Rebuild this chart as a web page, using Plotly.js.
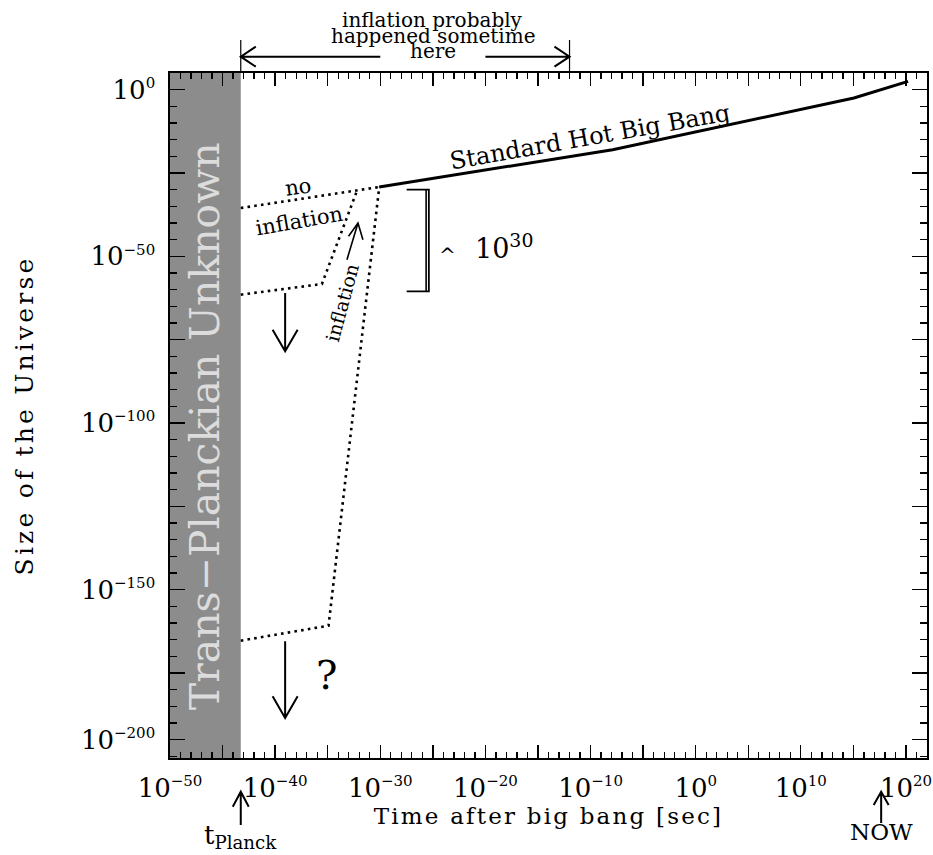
<!DOCTYPE html>
<html>
<head>
<meta charset="utf-8">
<script src="https://cdn.plot.ly/plotly-3.0.1.min.js"></script>
<style>
  html, body { margin: 0; padding: 0; background: #fff; }
  .xtitle { letter-spacing: 2.2px; }
  .ytitle { letter-spacing: 3.2px; }
</style>
</head>
<body>
<div id="chart" style="width:933px;height:855px;"></div>
<script>
// ---- data (log10 of time [s] and log10 of size) ----
const bigBangLogT   = [-30.1, -7.9, 15.05, 20.2];
const bigBangLogA   = [-29.2, -18.0, -2.5, 2.5];
const noInflLogT    = [-43.27, -30.1];
const noInflLogA    = [-35.5, -29.2];
const inflLogT      = [-43.27, -35.55, -32.2];
const inflLogA      = [-61.5, -58.3, -30.2];
const bigInflLogT   = [-43.27, -34.92, -30.1];
const bigInflLogA   = [-165.3, -160.8, -29.2];

const logTPlanck = -43.27;
const logTNow = 17.64;
const logTInflEnd = -12.0;

// ---- ticks ----
const xLabelVals = [-50, -40, -30, -20, -10, 0, 10, 20];
const xLabelExp  = ['−50', '−40', '−30', '−20', '−10', '0', '10', '20'];
const xTallVals  = [-50, -45, -40, -35, -30, -25, -20, -15, -10, -5, 0, 5, 10, 15, 20];
const yLabelVals = [0, -50, -100, -150, -195];
const yLabelExp  = ['0', '−50', '−100', '−150', '−200'];
const yTallVals  = [0, -25, -50, -75, -100, -125, -150, -175, -195];

function pow10Label(e) {
  return '10<sup><span style="font-size:15px">' + e + '</span></sup>';
}

// plot frame in pixels (for items placed outside the axes)
const W = 933, H = 855;
const M = {l: 170, r: 6, t: 73, b: 97};
const plotTop = M.t, plotBottom = H - M.b;
function paperY(py) { return (plotBottom - py) / (plotBottom - plotTop); }

const FONT = 'DejaVu Serif';
const dotLine = {color: '#000', width: 2.6, dash: '2.6px,4.2px'};

const traces = [
  {x: bigBangLogT, y: bigBangLogA, mode: 'lines', name: 'Standard Hot Big Bang',
   line: {color: '#000', width: 3}},
  // drawn on the overlaid (identical-range) axes that carry the top/right ticks
  {x: noInflLogT, y: noInflLogA, mode: 'lines', name: 'no inflation', line: dotLine,
   xaxis: 'x2', yaxis: 'y2'},
  {x: inflLogT, y: inflLogA, mode: 'lines', name: 'inflation', line: dotLine},
  {x: bigInflLogT, y: bigInflLogA, mode: 'lines', name: 'more inflation', line: dotLine}
];

const lineStyle = {color: '#000', width: 2};
const shapes = [
  // Trans-Planckian region
  {type: 'rect', xref: 'x', yref: 'paper', x0: -50, x1: logTPlanck, y0: 0, y1: 1,
   fillcolor: '#8c8c8c', line: {width: 0}, layer: 'below'},
  // down arrow (upper)
  {type: 'path', xref: 'x', yref: 'y', line: lineStyle,
   path: 'M -39.05,-61 L -39.05,-78.5 M -40.24,-72 L -39.05,-78.5 L -37.86,-72'},
  // down arrow (lower)
  {type: 'path', xref: 'x', yref: 'y', line: lineStyle,
   path: 'M -39.05,-165.5 L -39.05,-188.5 M -40.24,-182 L -39.05,-188.5 L -37.86,-182'},
  // inflation arrow
  {type: 'path', xref: 'x', yref: 'y', line: {color: '#000', width: 1.6},
   path: 'M -33.17,-51 L -32.12,-40 M -33.02,-44 L -32.12,-40 L -31.65,-45'},
  // bracket ~10^30
  {type: 'path', xref: 'x', yref: 'y', line: {color: '#000', width: 1.8},
   path: 'M -27.49,-30 L -25.38,-30 L -25.38,-60.5 L -27.49,-60.5'},
  {type: 'line', xref: 'x', yref: 'y', x0: -25.64, x1: -25.64, y0: -30, y1: -60.5,
   line: {color: '#000', width: 1.6}},
  // top "inflation window" arrow
  {type: 'line', xref: 'x', yref: 'paper', x0: logTPlanck, x1: logTPlanck,
   y0: paperY(40), y1: paperY(73), line: {color: '#000', width: 1.2}},
  {type: 'line', xref: 'x', yref: 'paper', x0: logTInflEnd, x1: logTInflEnd,
   y0: paperY(40), y1: paperY(73), line: {color: '#000', width: 1.2}},
  {type: 'path', xref: 'x', yref: 'paper', line: lineStyle,
   path: 'M ' + logTPlanck + ',' + paperY(56.7) + ' L -30,' + paperY(56.7) +
         ' M -41.84,' + paperY(46.7) + ' L ' + logTPlanck + ',' + paperY(56.7) + ' L -41.84,' + paperY(66.7)},
  {type: 'path', xref: 'x', yref: 'paper', line: lineStyle,
   path: 'M -20,' + paperY(56.7) + ' L ' + logTInflEnd + ',' + paperY(56.7) +
         ' M -13.43,' + paperY(46.7) + ' L ' + logTInflEnd + ',' + paperY(56.7) + ' L -13.43,' + paperY(66.7)},
  // t_Planck arrow
  {type: 'path', xref: 'x', yref: 'paper', line: lineStyle,
   path: 'M ' + logTPlanck + ',' + paperY(825) + ' L ' + logTPlanck + ',' + paperY(791.7) +
         ' M -44.03,' + paperY(806.7) + ' L ' + logTPlanck + ',' + paperY(791.7) + ' L -42.51,' + paperY(806.7)},
  // NOW arrow
  {type: 'path', xref: 'x', yref: 'paper', line: lineStyle,
   path: 'M ' + logTNow + ',' + paperY(823) + ' L ' + logTNow + ',' + paperY(791.7) +
         ' M ' + (logTNow - 0.71) + ',' + paperY(805) + ' L ' + logTNow + ',' + paperY(791.7) + ' L ' + (logTNow + 0.71) + ',' + paperY(805)}
];

function ann(o) {
  return Object.assign({showarrow: false, xanchor: 'center', yanchor: 'middle',
                        font: {family: FONT, size: 20, color: '#000'}}, o);
}

const annotations = [
  ann({x: -10.05, y: -14.1, xref: 'x', yref: 'y', text: 'Standard Hot Big Bang', textangle: -10,
       font: {family: FONT, size: 24, color: '#000'}}),
  ann({x: -37.8, y: -29.1, xref: 'x', yref: 'y', text: 'no', textangle: -8,
       font: {family: FONT, size: 21, color: '#000'}}),
  ann({x: -37.7, y: -39.3, xref: 'x', yref: 'y', text: 'inflation', textangle: -10,
       font: {family: FONT, size: 21, color: '#000'}}),
  ann({x: -33.67, y: -63.9, xref: 'x', yref: 'y', text: 'inflation', textangle: -75,
       font: {family: FONT, size: 19, color: '#000'}}),
  ann({x: -35.14, y: -175.5, xref: 'x', yref: 'y', text: '?',
       font: {family: FONT, size: 40, color: '#000'}}),
  ann({x: -23.57, y: -49.5, xref: 'x', yref: 'y', text: '^',
       font: {family: FONT, size: 20, color: '#000'}}),
  ann({x: -18.19, y: -47.1, xref: 'x', yref: 'y', text: '10<sup>30</sup>',
       font: {family: FONT, size: 27, color: '#000'}}),
  ann({x: -46.67, y: -100.95, xref: 'x', yref: 'y', text: 'Trans−Planckian Unknown', textangle: -90,
       font: {family: FONT, size: 41, color: '#dcdcdc'}}),
  ann({x: -25, y: paperY(19.5), xref: 'x', yref: 'paper', text: 'inflation probably',
       font: {family: FONT, size: 20, color: '#000'}}),
  ann({x: -25, y: paperY(35.5), xref: 'x', yref: 'paper', text: 'happened sometime',
       font: {family: FONT, size: 20, color: '#000'}}),
  ann({x: -25, y: paperY(50.5), xref: 'x', yref: 'paper', text: 'here',
       font: {family: FONT, size: 20, color: '#000'}}),
  ann({x: logTPlanck, y: paperY(836), xref: 'x', yref: 'paper', text: 't<sub>Planck</sub>',
       font: {family: FONT, size: 26, color: '#000'}}),
  ann({x: logTNow, y: paperY(832), xref: 'x', yref: 'paper', text: 'NOW',
       font: {family: FONT, size: 23, color: '#000'}})
];

const axisCommon = {
  showgrid: false, zeroline: false, showline: true, linecolor: '#000', linewidth: 1.6,
  mirror: 'allticks', ticks: 'inside', tickcolor: '#000', tickwidth: 1.3,
  tickmode: 'array', tickfont: {family: FONT, size: 26, color: '#000'}
};

const layout = {
  width: W, height: H,
  margin: {l: M.l, r: M.r, t: M.t, b: M.b, pad: 0},
  paper_bgcolor: '#fff', plot_bgcolor: '#fff',
  showlegend: false,
  font: {family: FONT, color: '#000'},
  xaxis: Object.assign({}, axisCommon, {
    range: [-50, 22], tickvals: xLabelVals, ticktext: xLabelExp.map(pow10Label),
    ticklen: 13, ticklabelstandoff: 6,
    minor: {tickmode: 'linear', tick0: -50, dtick: 1, ticks: 'inside', ticklen: 6, tickwidth: 1.3, tickcolor: '#000'},
    title: {text: 'Time after big bang [sec]', font: {family: FONT, size: 23, color: '#000'}, standoff: 5}
  }),
  xaxis2: Object.assign({}, axisCommon, {
    overlaying: 'x', side: 'top', anchor: 'y2',
    range: [-50, 22], tickvals: xTallVals, showticklabels: false, ticklen: 13,
    minor: {tickmode: 'linear', tick0: -50, dtick: 1, ticks: 'inside', ticklen: 6, tickwidth: 1.3, tickcolor: '#000'}
  }),
  yaxis: Object.assign({}, axisCommon, {
    range: [-200.5, 5], tickvals: yLabelVals, ticktext: yLabelExp.map(pow10Label),
    ticklen: 15, ticklabelstandoff: 8,
    minor: {tickmode: 'linear', tick0: 0, dtick: 5, ticks: 'inside', ticklen: 7, tickwidth: 1.3, tickcolor: '#000'},
    title: {text: 'Size of the Universe', font: {family: FONT, size: 25, color: '#000'}, standoff: 40}
  }),
  yaxis2: Object.assign({}, axisCommon, {
    overlaying: 'y', side: 'right', anchor: 'x2',
    range: [-200.5, 5], tickvals: yTallVals, showticklabels: false, ticklen: 15,
    minor: {tickmode: 'linear', tick0: 0, dtick: 5, ticks: 'inside', ticklen: 7, tickwidth: 1.3, tickcolor: '#000'}
  }),
  shapes: shapes,
  annotations: annotations
};

Plotly.newPlot('chart', traces, layout, {displayModeBar: false, staticPlot: true});
</script>
</body>
</html>
